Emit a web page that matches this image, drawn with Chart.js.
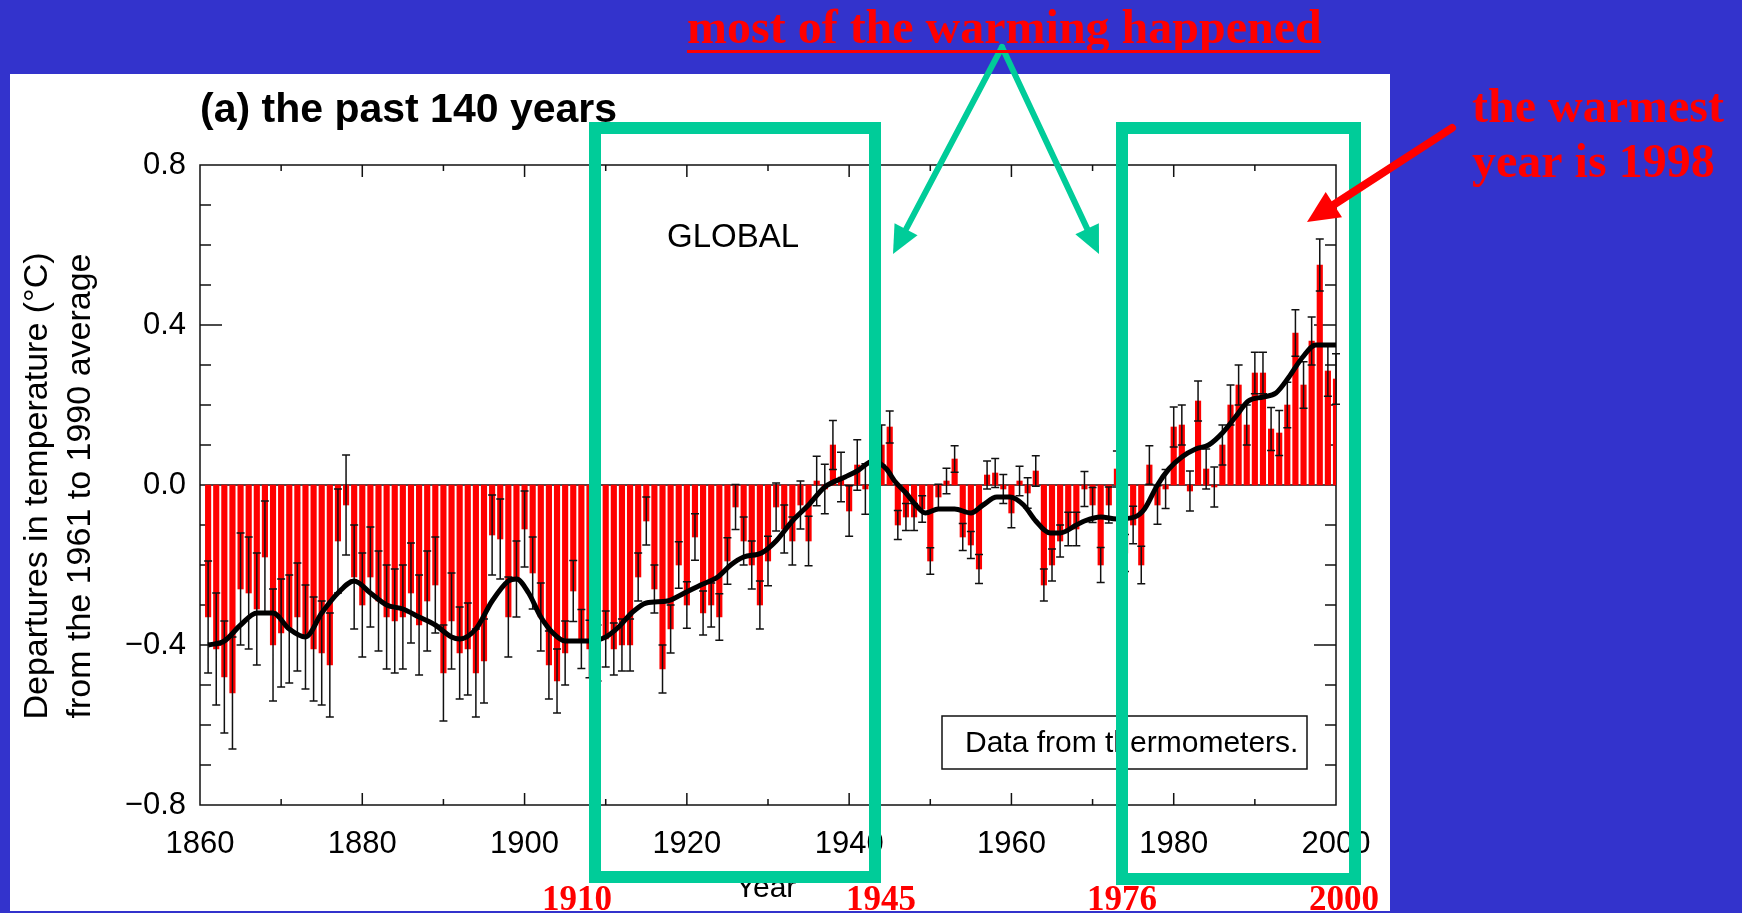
<!DOCTYPE html>
<html>
<head>
<meta charset="utf-8">
<script src="https://cdn.jsdelivr.net/npm/chart.js@4.4.0/dist/chart.umd.min.js"></script>
<style>
  html, body { margin: 0; padding: 0; background: #3333cc; overflow: hidden; }
  canvas { display: block; }
</style>
</head>
<body>
<canvas id="global" width="1742" height="913"></canvas>
<script>
const firstYear = 1861;

// annual global anomalies (deg C, vs 1961-1990), 1861..2000
const anomalies = [
  -0.33, -0.41, -0.48, -0.52, -0.26, -0.27, -0.31, -0.18, -0.40, -0.37,
  -0.36, -0.33, -0.38, -0.41, -0.42, -0.45, -0.14, -0.05, -0.23, -0.30,
  -0.23, -0.29, -0.33, -0.34, -0.33, -0.27, -0.35, -0.29, -0.25, -0.47,
  -0.34, -0.42, -0.41, -0.47, -0.44, -0.125, -0.135, -0.33, -0.235, -0.11,
  -0.22, -0.33, -0.45, -0.49, -0.42, -0.265, -0.385, -0.41, -0.42, -0.385,
  -0.41, -0.40, -0.40, -0.23, -0.09, -0.26, -0.46, -0.36, -0.20, -0.30,
  -0.13, -0.32, -0.30, -0.33, -0.19, -0.055, -0.14, -0.20, -0.30, -0.19,
  -0.055, -0.11, -0.14, -0.05, -0.14, 0.01, -0.01, 0.10, 0.02, -0.065,
  0.05, -0.01, 0.05, 0.10, 0.145, -0.10, -0.08, -0.08, -0.06, -0.19,
  -0.03, 0.01, 0.065, -0.13, -0.15, -0.21, 0.025, 0.03, -0.01, -0.07,
  0.01, -0.02, 0.035, -0.25, -0.20, -0.14, -0.11, -0.11, -0.01, -0.05,
  -0.20, -0.05, 0.04, -0.17, -0.10, -0.20, 0.05, -0.05, -0.01, 0.145,
  0.15, -0.015, 0.21, 0.04, -0.005, 0.10, 0.20, 0.25, 0.15, 0.28,
  0.28, 0.14, 0.13, 0.20, 0.38, 0.25, 0.36, 0.55, 0.285, 0.265
];

// half length of the error bars, same years
const errors = [
  0.14, 0.14, 0.14, 0.14, 0.14, 0.14, 0.14, 0.14, 0.14, 0.135,
  0.135, 0.135, 0.13, 0.13, 0.13, 0.13, 0.13, 0.125, 0.13, 0.13,
  0.125, 0.125, 0.13, 0.13, 0.13, 0.125, 0.125, 0.125, 0.12, 0.12,
  0.12, 0.115, 0.115, 0.11, 0.105, 0.10, 0.10, 0.10, 0.095, 0.095,
  0.09, 0.085, 0.085, 0.08, 0.08, 0.076, 0.074, 0.072, 0.07, 0.07,
  0.065, 0.065, 0.065, 0.06, 0.06, 0.06, 0.06, 0.06, 0.058, 0.058,
  0.058, 0.055, 0.055, 0.058, 0.058, 0.056, 0.06, 0.06, 0.06, 0.062,
  0.06, 0.06, 0.06, 0.06, 0.062, 0.062, 0.062, 0.061, 0.062, 0.063,
  0.063, 0.063, 0.06, 0.05, 0.04, 0.036, 0.034, 0.034, 0.033, 0.033,
  0.032, 0.032, 0.033, 0.034, 0.034, 0.036, 0.035, 0.036, 0.036, 0.037,
  0.037, 0.038, 0.038, 0.04, 0.04, 0.04, 0.042, 0.042, 0.044, 0.044,
  0.044, 0.045, 0.045, 0.046, 0.047, 0.047, 0.048, 0.048, 0.049, 0.05,
  0.05, 0.05, 0.05, 0.05, 0.05, 0.05, 0.05, 0.05, 0.05, 0.052,
  0.052, 0.054, 0.056, 0.057, 0.058, 0.058, 0.06, 0.065, 0.063, 0.063
];

const years = anomalies.map((_, i) => firstYear + i);

// smoothed curve
const smoothYears = [
  1861, 1863, 1865, 1867, 1869, 1871, 1873, 1875, 1877, 1879,
  1881, 1883, 1885, 1887, 1889, 1891, 1892, 1894, 1896, 1898,
  1899, 1900.5, 1902, 1903.5, 1905, 1908, 1910, 1911.6, 1913.2, 1915,
  1917.6, 1919.7, 1921.7, 1923.8, 1925.4, 1927, 1929.2, 1931, 1933, 1935,
  1937, 1939.5, 1941, 1943, 1944.6, 1945.6, 1947, 1948.2, 1949.4, 1951,
  1953, 1955, 1956.5, 1958.2, 1959.8, 1961.5, 1963, 1964.8, 1966, 1968,
  1969, 1971, 1973, 1975.2, 1976.4, 1978, 1979.4, 1981, 1982.7, 1984.3,
  1986, 1987.6, 1989.2, 1991, 1992.6, 1994.2, 1995.9, 1997.5, 2000
];
const smoothValues = [
  -0.40, -0.39, -0.35, -0.32, -0.32, -0.36, -0.38, -0.32, -0.27, -0.24,
  -0.27, -0.30, -0.31, -0.33, -0.35, -0.38, -0.385, -0.36, -0.29, -0.24,
  -0.235, -0.27, -0.33, -0.37, -0.39, -0.39, -0.38, -0.355, -0.32, -0.295,
  -0.29, -0.27, -0.25, -0.23, -0.20, -0.18, -0.17, -0.14, -0.09, -0.05,
  -0.005, 0.02, 0.035, 0.06, 0.04, 0.01, -0.02, -0.05, -0.07, -0.06,
  -0.06, -0.07, -0.05, -0.03, -0.03, -0.05, -0.09, -0.12, -0.12, -0.10,
  -0.09, -0.08, -0.085, -0.08, -0.06, 0.0, 0.04, 0.07, 0.09, 0.10,
  0.13, 0.17, 0.21, 0.22, 0.23, 0.27, 0.32, 0.35, 0.35
];

const periodLabels = ['1910', '1945', '1976', '2000'];

const SANS = '"Liberation Sans", Arial, Helvetica, sans-serif';
const SERIF = '"Liberation Serif", "Times New Roman", serif';
const GREEN = '#00cc99';
const RED = '#ff0000';

function arrow(c, x1, y1, x2, y2, w, head, half, color) {
  const a = Math.atan2(y2 - y1, x2 - x1);
  const bx = x2 - head * Math.cos(a), by = y2 - head * Math.sin(a);
  c.strokeStyle = color;
  c.fillStyle = color;
  c.lineWidth = w;
  c.beginPath(); c.moveTo(x1, y1); c.lineTo(bx, by); c.stroke();
  c.beginPath();
  c.moveTo(x2, y2);
  c.lineTo(bx + half * Math.sin(a), by - half * Math.cos(a));
  c.lineTo(bx - half * Math.sin(a), by + half * Math.cos(a));
  c.closePath();
  c.fill();
}

const panel = {
  id: 'panel',
  beforeDraw(chart) {
    const c = chart.ctx;
    c.save();
    c.fillStyle = '#3333cc';
    c.fillRect(0, 0, chart.width, chart.height);
    c.fillStyle = '#ffffff';
    c.fillRect(10, 74, 1380, 837);
    c.restore();
  }
};

// box, zero line, inward ticks, error bars
const frame = {
  id: 'frame',
  beforeDatasetsDraw(chart) {
    const { ctx: c, chartArea: a, scales: { x, y } } = chart;
    c.save();
    c.strokeStyle = '#111';
    c.lineWidth = 1.5;
    c.strokeRect(a.left, a.top, a.right - a.left, a.bottom - a.top);
    const y0 = y.getPixelForValue(0);
    c.beginPath();
    c.moveTo(a.left, y0); c.lineTo(a.right, y0);
    for (let k = -7; k <= 7; k++) {
      const py = y.getPixelForValue(k / 10);
      const len = k % 4 === 0 ? 22 : 11;
      c.moveTo(a.left, py); c.lineTo(a.left + len, py);
      c.moveTo(a.right, py); c.lineTo(a.right - len, py);
    }
    for (let yr = 1870; yr < 2000; yr += 10) {
      const px = x.getPixelForValue(yr);
      const len = (yr - 1860) % 20 === 0 ? 12 : 6;
      c.moveTo(px, a.top); c.lineTo(px, a.top + len);
      c.moveTo(px, a.bottom); c.lineTo(px, a.bottom - len);
    }
    c.stroke();
    c.restore();
  },
  afterDatasetDraw(chart, args) {
    if (args.index !== 0) return;
    const { ctx: c, scales: { x, y } } = chart;
    c.save();
    c.strokeStyle = '#111';
    c.lineWidth = 1.5;
    c.beginPath();
    years.forEach((yr, i) => {
      const px = x.getPixelForValue(yr);
      const hi = y.getPixelForValue(anomalies[i] + errors[i]);
      const lo = y.getPixelForValue(anomalies[i] - errors[i]);
      c.moveTo(px, hi); c.lineTo(px, lo);
      c.moveTo(px - 4, hi); c.lineTo(px + 4, hi);
      c.moveTo(px - 4, lo); c.lineTo(px + 4, lo);
    });
    c.stroke();
    c.restore();
  }
};

const notes = {
  id: 'notes',
  afterDraw(chart) {
    const c = chart.ctx;
    c.save();
    c.fillStyle = '#000';
    c.textBaseline = 'alphabetic';

    c.font = 'bold 41px ' + SANS;
    c.textAlign = 'left';
    c.fillText('(a) the past 140 years', 200, 122);

    c.font = '34px ' + SANS;
    c.textAlign = 'center';
    c.textBaseline = 'middle';
    c.save();
    c.translate(38, 486); c.rotate(-Math.PI / 2);
    c.fillText('Departures in temperature (°C)', 0, 0);
    c.restore();
    c.save();
    c.translate(81, 486); c.rotate(-Math.PI / 2);
    c.fillText('from the 1961 to 1990 average', 0, 0);
    c.restore();

    c.textBaseline = 'alphabetic';
    c.font = '33px ' + SANS;
    c.fillText('GLOBAL', 733, 247);

    c.font = '30px ' + SANS;
    c.fillText('Year', 766, 897);

    c.strokeStyle = '#111';
    c.lineWidth = 1.5;
    c.strokeRect(942, 716, 365, 53);
    c.textAlign = 'left';
    c.fillText('Data from thermometers.', 965, 752);

    // highlighted periods
    c.strokeStyle = GREEN;
    c.lineWidth = 12;
    c.lineJoin = 'miter';
    c.strokeRect(595, 128, 280, 749);
    c.strokeRect(1122, 128, 233, 751);

    c.lineCap = 'round';
    arrow(c, 1002, 47, 893, 254, 6, 28, 13, GREEN);
    arrow(c, 1002, 47, 1099, 254, 6, 28, 13, GREEN);
    arrow(c, 1452, 128, 1307, 222, 8, 32, 15, RED);

    c.fillStyle = RED;
    c.font = 'bold 48px ' + SERIF;
    c.textAlign = 'left';
    c.fillText('most of the warming happened', 687, 43);
    c.fillRect(687, 50, 633, 3);
    c.fillText('the warmest', 1472, 122);
    c.fillText('year is 1998', 1472, 177);

    c.font = 'bold 35px ' + SERIF;
    const lefts = [542, 846, 1087, 1309];
    periodLabels.forEach((t, i) => c.fillText(t, lefts[i], 910));
    c.restore();
  }
};

new Chart(document.getElementById('global'), {
  type: 'bar',
  data: {
    datasets: [
      {
        type: 'bar',
        data: years.map((yr, i) => ({ x: yr, y: anomalies[i] })),
        backgroundColor: RED,
        borderWidth: 0,
        barThickness: 5.5,
        order: 1
      },
      {
        type: 'line',
        data: smoothYears.map((yr, i) => ({ x: yr, y: smoothValues[i] })),
        borderColor: '#000',
        borderWidth: 5,
        pointRadius: 0,
        fill: false,
        cubicInterpolationMode: 'monotone',
        order: 0
      }
    ]
  },
  options: {
    responsive: false,
    animation: false,
    events: [],
    layout: { padding: { left: 0, top: 165, right: 406, bottom: 0 } },
    plugins: { legend: { display: false }, tooltip: { enabled: false } },
    scales: {
      x: {
        type: 'linear',
        min: 1860,
        max: 2000,
        offset: false,
        grid: { display: false, drawTicks: false },
        border: { display: false },
        ticks: {
          stepSize: 20,
          autoSkip: false,
          maxRotation: 0,
          padding: 21,
          color: '#000',
          font: { family: SANS, size: 31 },
          callback: v => String(v)
        },
        afterFit: s => { s.height = 108; }
      },
      y: {
        min: -0.8,
        max: 0.8,
        grid: { display: false, drawTicks: false },
        border: { display: false },
        ticks: {
          stepSize: 0.4,
          padding: 14,
          color: '#000',
          font: { family: SANS, size: 31 },
          callback: v => (Math.abs(v) < 1e-9 ? '0.0' : (v < 0 ? '\u2212' : '') + Math.abs(v).toFixed(1))
        },
        afterFit: s => { s.width = 200; }
      }
    }
  },
  plugins: [panel, frame, notes]
});
</script>
</body>
</html>
